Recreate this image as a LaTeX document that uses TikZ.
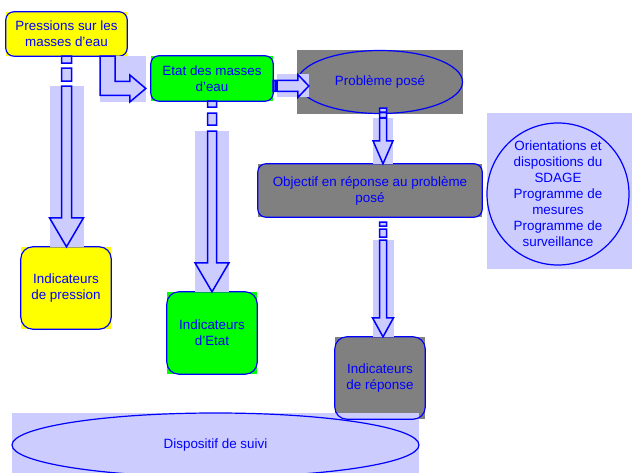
\documentclass[tikz,border=0pt]{standalone}
\usepackage{fontspec}
\setmainfont{Liberation Sans}
\usetikzlibrary{calc}
\definecolor{bleu}{RGB}{0,0,255}
\definecolor{lavande}{RGB}{204,204,255}
\definecolor{gris}{RGB}{128,128,128}
\definecolor{jaune}{RGB}{255,255,0}
\definecolor{vert}{RGB}{0,255,0}

% 竖直条纹箭头: #1 起点, #2 箭尖, #3 杆半宽, #4 箭头半宽, #5 箭头长, #6 #7 条纹长, #8 间隙
\newcommand{\flecheraye}[8]{%
  \fill[lavande] let \p1=(#1), \p2=(#2) in
    ({\x1-#4},{\y1-#6-#7-2*#8}) rectangle ({\x1+#4},\y2);
  \draw[fleche] let \p1=(#1), \p2=(#2) in
    ({\x1-#3},\y1) rectangle ({\x1+#3},{\y1-#6})
    ({\x1-#3},{\y1-#6-#8}) rectangle ({\x1+#3},{\y1-#6-#8-#7})
    ({\x1-#3},{\y1-#6-#7-2*#8}) -- ({\x1-#3},{\y2+#5}) -- ({\x1-#4},{\y2+#5}) -- (\x1,\y2)
    -- ({\x1+#4},{\y2+#5}) -- ({\x1+#3},{\y2+#5}) -- ({\x1+#3},{\y1-#6-#7-2*#8}) -- cycle;
}

\begin{document}
\begin{tikzpicture}[x=1pt, y=-1pt]
        % ================= 样式定义 =================
        \tikzset{
            % 方框: 底色矩形, 蓝字
            boite/.style={rectangle, inner sep=0pt, text=bleu, align=center, font=\fontsize{13.4}{16}\selectfont},
            % 蓝色边框
            bord/.style={draw=bleu, line width=1.2pt},
            % 空心块箭头
            fleche/.style={draw=bleu, fill=lavande, line width=1.5pt, line join=miter}
        }
        \useasboundingbox (0,0) rectangle (632,473);
        \clip (0,0) rectangle (632,473);

        % ================= 方框 =================

        % 上排: 压力, 状态, 问题
        \node[boite, fill=jaune, minimum width=121, minimum height=44] (pres) at (66.5,34) {Pressions sur les\\masses d'eau};
        \node[boite, fill=vert, minimum width=122, minimum height=45] (etat) at (212,78.5) {Etat des masses\\d'eau};
        \node[boite, fill=gris, minimum width=166, minimum height=64] (pb) at (380,82) {Problème posé};
        \draw[bord] (pb.center) ellipse [x radius=82.5, y radius=31.5];

        % 目标
        \node[boite, fill=gris, minimum width=224, minimum height=53] (obj) at (370,190.5) {Objectif en réponse au problème\\posé};

        % 右侧圆
        \fill[lavande] (487,113) rectangle (633,269);
        \node[boite, circle, bord, minimum size=142] (orient) at (558,194)
            {Orientations et\\dispositions du\\SDAGE\\Programme de\\mesures\\Programme de\\surveillance};

        % 指标
        \node[boite, fill=jaune, minimum width=90, minimum height=82] (ipres) at (66,288) {Indicateurs\\de pression};
        \node[boite, fill=vert, minimum width=90, minimum height=82] (ietat) at (212,333) {Indicateurs\\d'Etat};
        \node[boite, fill=gris, minimum width=90, minimum height=82] (irep) at (380,378) {Indicateurs\\de réponse};

        % 底部椭圆
        \node[boite, fill=lavande, minimum width=407, minimum height=64] (suivi) at (215.5,445) {Dispositif de suivi};
        \draw[bord] (suivi.center) ellipse [x radius=203.5, y radius=32];

        % 圆角边框
        \foreach \n in {pres,etat,obj}
            \draw[bord, rounded corners=8pt] (\n.south west) rectangle (\n.north east);
        \foreach \n in {ipres,ietat,irep}
            \draw[bord, rounded corners=12pt] (\n.south west) rectangle (\n.north east);

        % ================= 箭头 =================
        \coordinate (bdep) at ($(pres.south east)+(-19.5,0)$);
        \coordinate (bfin) at ($(etat.west)+(-5,10)$);
        \coordinate (cdep) at ($(etat.east)+(0,7.5)$);
        \coordinate (cfin) at ($(pb.west)+(12,4)$);
        \coordinate (ddep) at ($(pb.south)+(3,-6)$);
        \coordinate (fdep) at ($(obj.south)+(13,5)$);

        % 压力 -> 状态 (折线箭头)
        \fill[lavande] let \p1=(bdep), \p2=(bfin) in ({\x1-7.5pt},\y1) rectangle (\x2,{\y2-13.5pt});
        \draw[fleche] let \p1=(bdep), \p2=(bfin) in
            ({\x1-7.5pt},\y1) -- ({\x1-7.5pt},{\y2-7pt}) -- ({\x2-16pt},{\y2-7pt}) -- ({\x2-16pt},{\y2-13.5pt})
            -- (\x2,\y2) -- ({\x2-16pt},{\y2+13.5pt}) -- ({\x2-16pt},{\y2+7pt}) -- ({\x1+7.5pt},{\y2+7pt})
            -- ({\x1+7.5pt},\y1) -- cycle;

        % 状态 -> 问题
        \fill[lavande] let \p1=(cdep), \p2=(cfin) in ({\x1+4pt},{\y1+11.5pt}) rectangle (\x2,{\y1-11.5pt});
        \draw[fleche] let \p1=(cdep), \p2=(cfin) in
            (\x1,{\y1+5.5pt}) rectangle ({\x1+2pt},{\y1-5.5pt})
            ({\x1+2.5pt},{\y1+5.5pt}) rectangle ({\x1+4pt},{\y1-5.5pt})
            ({\x1+4pt},{\y1+5.5pt}) -- ({\x2-11pt},{\y1+5.5pt}) -- ({\x2-11pt},{\y1+11.5pt}) -- (\x2,\y1)
            -- ({\x2-11pt},{\y1-11.5pt}) -- ({\x2-11pt},{\y1-5.5pt}) -- ({\x1+4pt},{\y1-5.5pt}) -- cycle;

        % 竖直箭头
        \flecheraye{pres.south}{ipres.north}{5pt}{17pt}{29pt}{7pt}{13pt}{5pt}
        \flecheraye{etat.south}{ietat.north}{4.5pt}{17pt}{29pt}{6pt}{12pt}{6pt}
        \flecheraye{ddep}{obj.north}{3.5pt}{10pt}{23pt}{4pt}{5pt}{0.5pt}
        \flecheraye{fdep}{irep.north}{3.5pt}{10.5pt}{19pt}{4pt}{8pt}{3pt}

    \end{tikzpicture}
\end{document}
